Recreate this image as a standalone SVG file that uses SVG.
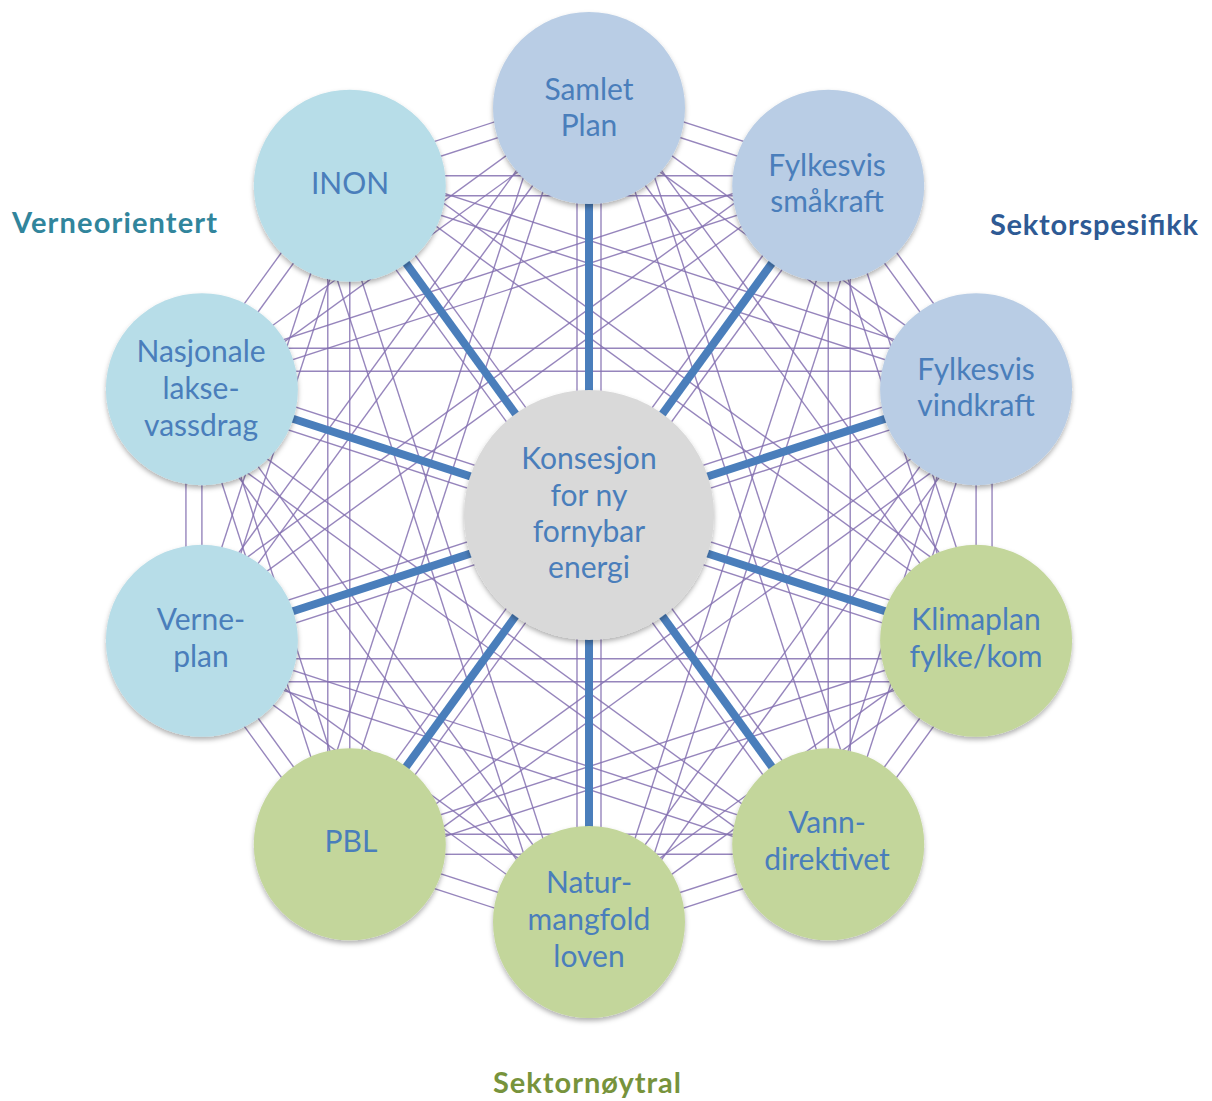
<svg xmlns="http://www.w3.org/2000/svg" xmlns:xlink="http://www.w3.org/1999/xlink" width="1212" height="1101" viewBox="0 0 1212 1101">
<style>
.m{stroke:#8470b0;stroke-width:1.4;stroke-opacity:0.85;fill:none}
.spoke{stroke:#4a7ebb;stroke-width:8;stroke-linecap:butt}
.node circle{filter:url(#sh)}
.blue{fill:#b9cde5}
.cyan{fill:#b7dde8}
.green{fill:#c3d69b}
.grey{fill:#d9d9d9}
.t{font-family:Lato,"Liberation Sans",sans-serif;font-size:30px;fill:#4a7ebb;text-anchor:middle}
.lab{font-family:Lato,"Liberation Sans",sans-serif;font-size:29px;font-weight:bold}
</style>
<defs>
<filter id="sh" x="-20%" y="-20%" width="140%" height="150%">
<feDropShadow dx="0" dy="3" stdDeviation="2.5" flood-color="#000" flood-opacity="0.3"/>
</filter>
<g id="c1" class="m"><line x1="589" y1="108" x2="828.2" y2="185.7"/><line x1="593.9" y1="92.8" x2="833.1" y2="170.5"/></g>
<g id="c2" class="m"><line x1="583.1" y1="116.1" x2="970.2" y2="397.3"/><line x1="594.9" y1="99.9" x2="982.0" y2="381.1"/></g>
<g id="c3" class="m"><line x1="589" y1="108" x2="976.1" y2="640.8"/><line x1="606.8" y1="95.1" x2="993.9" y2="627.9"/></g>
<g id="c4" class="m"><line x1="606.1" y1="102.4" x2="845.3" y2="838.7"/><line x1="628.0" y1="95.3" x2="867.2" y2="831.6"/></g>
<g id="c5" class="m"><line x1="577" y1="108" x2="577" y2="922"/><line x1="601" y1="108" x2="601" y2="922"/></g>
</defs>
<rect width="1212" height="1101" fill="#ffffff"/>
<g id="connectors">
<g class="mesh" stroke="#8470b0" stroke-width="1.4" stroke-opacity="0.85">
<use xlink:href="#c1"/><use xlink:href="#c1" transform="rotate(36 589 515)"/><use xlink:href="#c1" transform="rotate(72 589 515)"/><use xlink:href="#c1" transform="rotate(108 589 515)"/><use xlink:href="#c1" transform="rotate(144 589 515)"/><use xlink:href="#c1" transform="rotate(180 589 515)"/><use xlink:href="#c1" transform="rotate(216 589 515)"/><use xlink:href="#c1" transform="rotate(252 589 515)"/><use xlink:href="#c1" transform="rotate(288 589 515)"/><use xlink:href="#c1" transform="rotate(324 589 515)"/>
<use xlink:href="#c2"/><use xlink:href="#c2" transform="rotate(36 589 515)"/><use xlink:href="#c2" transform="rotate(72 589 515)"/><use xlink:href="#c2" transform="rotate(108 589 515)"/><use xlink:href="#c2" transform="rotate(144 589 515)"/><use xlink:href="#c2" transform="rotate(180 589 515)"/><use xlink:href="#c2" transform="rotate(216 589 515)"/><use xlink:href="#c2" transform="rotate(252 589 515)"/><use xlink:href="#c2" transform="rotate(288 589 515)"/><use xlink:href="#c2" transform="rotate(324 589 515)"/>
<use xlink:href="#c3"/><use xlink:href="#c3" transform="rotate(36 589 515)"/><use xlink:href="#c3" transform="rotate(72 589 515)"/><use xlink:href="#c3" transform="rotate(108 589 515)"/><use xlink:href="#c3" transform="rotate(144 589 515)"/><use xlink:href="#c3" transform="rotate(180 589 515)"/><use xlink:href="#c3" transform="rotate(216 589 515)"/><use xlink:href="#c3" transform="rotate(252 589 515)"/><use xlink:href="#c3" transform="rotate(288 589 515)"/><use xlink:href="#c3" transform="rotate(324 589 515)"/>
<use xlink:href="#c4"/><use xlink:href="#c4" transform="rotate(36 589 515)"/><use xlink:href="#c4" transform="rotate(72 589 515)"/><use xlink:href="#c4" transform="rotate(108 589 515)"/><use xlink:href="#c4" transform="rotate(144 589 515)"/><use xlink:href="#c4" transform="rotate(180 589 515)"/><use xlink:href="#c4" transform="rotate(216 589 515)"/><use xlink:href="#c4" transform="rotate(252 589 515)"/><use xlink:href="#c4" transform="rotate(288 589 515)"/><use xlink:href="#c4" transform="rotate(324 589 515)"/>
<use xlink:href="#c5"/><use xlink:href="#c5" transform="rotate(36 589 515)"/><use xlink:href="#c5" transform="rotate(72 589 515)"/><use xlink:href="#c5" transform="rotate(108 589 515)"/><use xlink:href="#c5" transform="rotate(144 589 515)"/>
</g>
<g class="spokes">
<line class="spoke" x1="589" y1="515" x2="589" y2="108"/>
<line class="spoke" x1="589" y1="515" x2="828.2" y2="185.7"/>
<line class="spoke" x1="589" y1="515" x2="976.1" y2="389.2"/>
<line class="spoke" x1="589" y1="515" x2="976.1" y2="640.8"/>
<line class="spoke" x1="589" y1="515" x2="828.2" y2="844.3"/>
<line class="spoke" x1="589" y1="515" x2="589" y2="922"/>
<line class="spoke" x1="589" y1="515" x2="349.8" y2="844.3"/>
<line class="spoke" x1="589" y1="515" x2="201.9" y2="640.8"/>
<line class="spoke" x1="589" y1="515" x2="201.9" y2="389.2"/>
<line class="spoke" x1="589" y1="515" x2="349.8" y2="185.7"/>
</g>
</g>
<g id="node-samlet" class="node"><circle class="blue" cx="589" cy="108" r="96"/><text class="t" x="589" y="100">Samlet</text><text class="t" x="589" y="136">Plan</text></g>
<g id="node-smakraft" class="node"><circle class="blue" cx="828.2" cy="185.7" r="96"/><text class="t" x="827" y="176">Fylkesvis</text><text class="t" x="827" y="212">småkraft</text></g>
<g id="node-vindkraft" class="node"><circle class="blue" cx="976.1" cy="389.2" r="96"/><text class="t" x="976" y="380">Fylkesvis</text><text class="t" x="976" y="416">vindkraft</text></g>
<g id="node-klimaplan" class="node"><circle class="green" cx="976.1" cy="640.8" r="96"/><text class="t" x="976" y="630">Klimaplan</text><text class="t" x="976" y="667">fylke/kom</text></g>
<g id="node-vann" class="node"><circle class="green" cx="828.2" cy="844.3" r="96"/><text class="t" x="827" y="833">Vann-</text><text class="t" x="827" y="870">direktivet</text></g>
<g id="node-natur" class="node"><circle class="green" cx="589" cy="922" r="96"/><text class="t" x="589" y="893">Natur-</text><text class="t" x="589" y="930">mangfold</text><text class="t" x="589" y="967">loven</text></g>
<g id="node-pbl" class="node"><circle class="green" cx="349.8" cy="844.3" r="96"/><text class="t" x="351" y="852">PBL</text></g>
<g id="node-verneplan" class="node"><circle class="cyan" cx="201.9" cy="640.8" r="96"/><text class="t" x="201" y="630">Verne-</text><text class="t" x="201" y="667">plan</text></g>
<g id="node-nasjonale" class="node"><circle class="cyan" cx="201.9" cy="389.2" r="96"/><text class="t" x="201" y="362">Nasjonale</text><text class="t" x="201" y="399">lakse-</text><text class="t" x="201" y="436">vassdrag</text></g>
<g id="node-inon" class="node"><circle class="cyan" cx="349.8" cy="185.7" r="96"/><text class="t" x="350" y="194">INON</text></g>
<g id="node-center" class="node"><circle class="grey" cx="589" cy="515" r="125"/><text class="t" x="589" y="469">Konsesjon</text><text class="t" x="589" y="506">for ny</text><text class="t" x="589" y="542">fornybar</text><text class="t" x="589" y="578">energi</text></g>
<g id="labels">
<text class="lab" x="12" y="233" fill="#31859c" textLength="205" lengthAdjust="spacing">Verneorientert</text>
<text class="lab" x="990" y="235" fill="#2e5a94" textLength="208" lengthAdjust="spacing">Sektorspesifikk</text>
<text class="lab" x="493" y="1093" fill="#77933c" textLength="188" lengthAdjust="spacing">Sektornøytral</text>
</g>
</svg>
